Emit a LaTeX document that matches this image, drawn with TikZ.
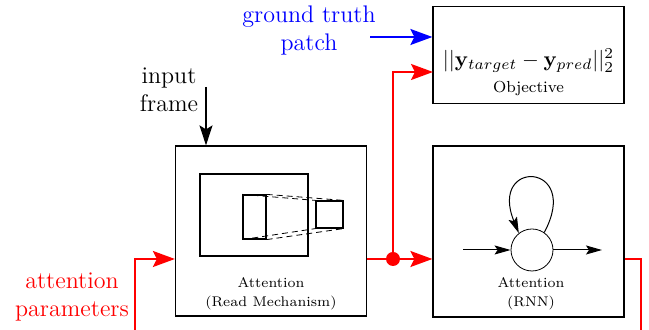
\documentclass[tikz,border=0pt]{standalone}
\usepackage{amsmath, amsfonts}
\usepackage{tikz}
\usetikzlibrary{arrows.meta, positioning, calc}
\usepackage{xcolor}

\begin{document}
\begin{tikzpicture}[x=0.5pt, y=-0.5pt,
	blockbox/.style={draw, line width=0.6pt, inner sep=0pt, minimum width=95.5pt},
	framebox/.style={draw, line width=0.6pt, inner sep=0pt},
	sublabel/.style={font=\scriptsize, align=center},
	sidetext/.style={font=\large, align=center},
	bigtip/.style={-{Stealth[length=11pt, width=8pt, inset=2pt]}},
	redline/.style={red, line width=1pt, bigtip},
	blackarrow/.style={line width=0.6pt, -{Stealth[length=10pt, width=6.5pt, inset=2pt]}},
	cellarrow/.style={line width=0.5pt, -{Stealth[length=8pt, width=4.5pt, inset=1.5pt]}}]
		\useasboundingbox (0,0) rectangle (649,330);

		\draw (271,231) node[blockbox, minimum height=85pt] (read) {}
		(528.5,231.5) node[blockbox, minimum height=85.5pt] (rnn) {}
		(528.5,55) node[blockbox, minimum height=48.5pt] (obj) {};

		\draw (254,215) node[framebox, minimum width=54pt, minimum height=41pt] (img) {}
		(254.5,217) node[framebox, minimum width=11.5pt, minimum height=22pt] (glimpse) {}
		(329.5,214.5) node[framebox, minimum width=13.5pt, minimum height=13.5pt] (patch) {};

		\draw[densely dashed, line width=0.4pt] (glimpse.north west) -- (patch.north west);
		\draw[densely dashed, line width=0.4pt] (glimpse.north east) -- (patch.north east);
		\draw[densely dashed, line width=0.4pt] (glimpse.south west) -- (patch.south west);
		\draw[densely dashed, line width=0.4pt] (glimpse.south east) -- (patch.south east);

		\node[sublabel] (readlbl) at (271,293.5) {Attention\\[1.5pt](Read Mechanism)};
		\node[sublabel] (rnnlbl) at (531,293.5) {Attention\\[1.5pt](RNN)};
		\node[scale=1.08, inner sep=0pt] (loss) at (528.5,61) {$||\mathbf{y}_{target}-\mathbf{y}_{pred}||_2^2$};
		\node[font=\footnotesize, inner sep=1pt] (objlbl) at (528.5,89) {Objective};

		\node[draw, circle, line width=0.4pt, minimum size=21pt, inner sep=0pt] (cell) at (532,250) {};
		\coordinate (cellin) at (463,250);
		\coordinate (cellout) at (602,250);
		\draw[cellarrow] (cellin) -- (cell.west);
		\draw[cellarrow] (cell.east) -- (cellout);
		\draw[cellarrow] (cell.55) .. controls (582,162) and (488,158) .. (cell.128);

		\node[sidetext] (frame) at (169,90) {input\\frame};
		\coordinate (framein) at (206,87);
		\draw[blackarrow] (framein) -- (framein |- read.north);

		\node[sidetext, text=blue] (truth) at (309,31) {ground truth\\patch};
		\coordinate (truthin) at (370,37);
		\draw[blue, line width=1pt, bigtip] (truthin) -- (obj.west |- truthin);

		\node[sidetext, text=red] (params) at (72,297) {attention\\parameters};
		\coordinate (paramsin) at (135,331);
		\coordinate (split) at (393,259);
		\coordinate (objin) at (433,72);
		\coordinate (rnnout) at (641,331);

		\draw[redline] (paramsin) |- (read.west |- split);
		\draw[red, line width=1pt] (read.east |- split) -- (split);
		\draw[redline] (split) -- (rnn.west |- split);
		\draw[redline] (split) |- (objin);
		\draw[red, line width=1pt] (rnn.east |- split) -| (rnnout);
		\fill[red] (split) circle (3.5pt);
	\end{tikzpicture}
\end{document}
